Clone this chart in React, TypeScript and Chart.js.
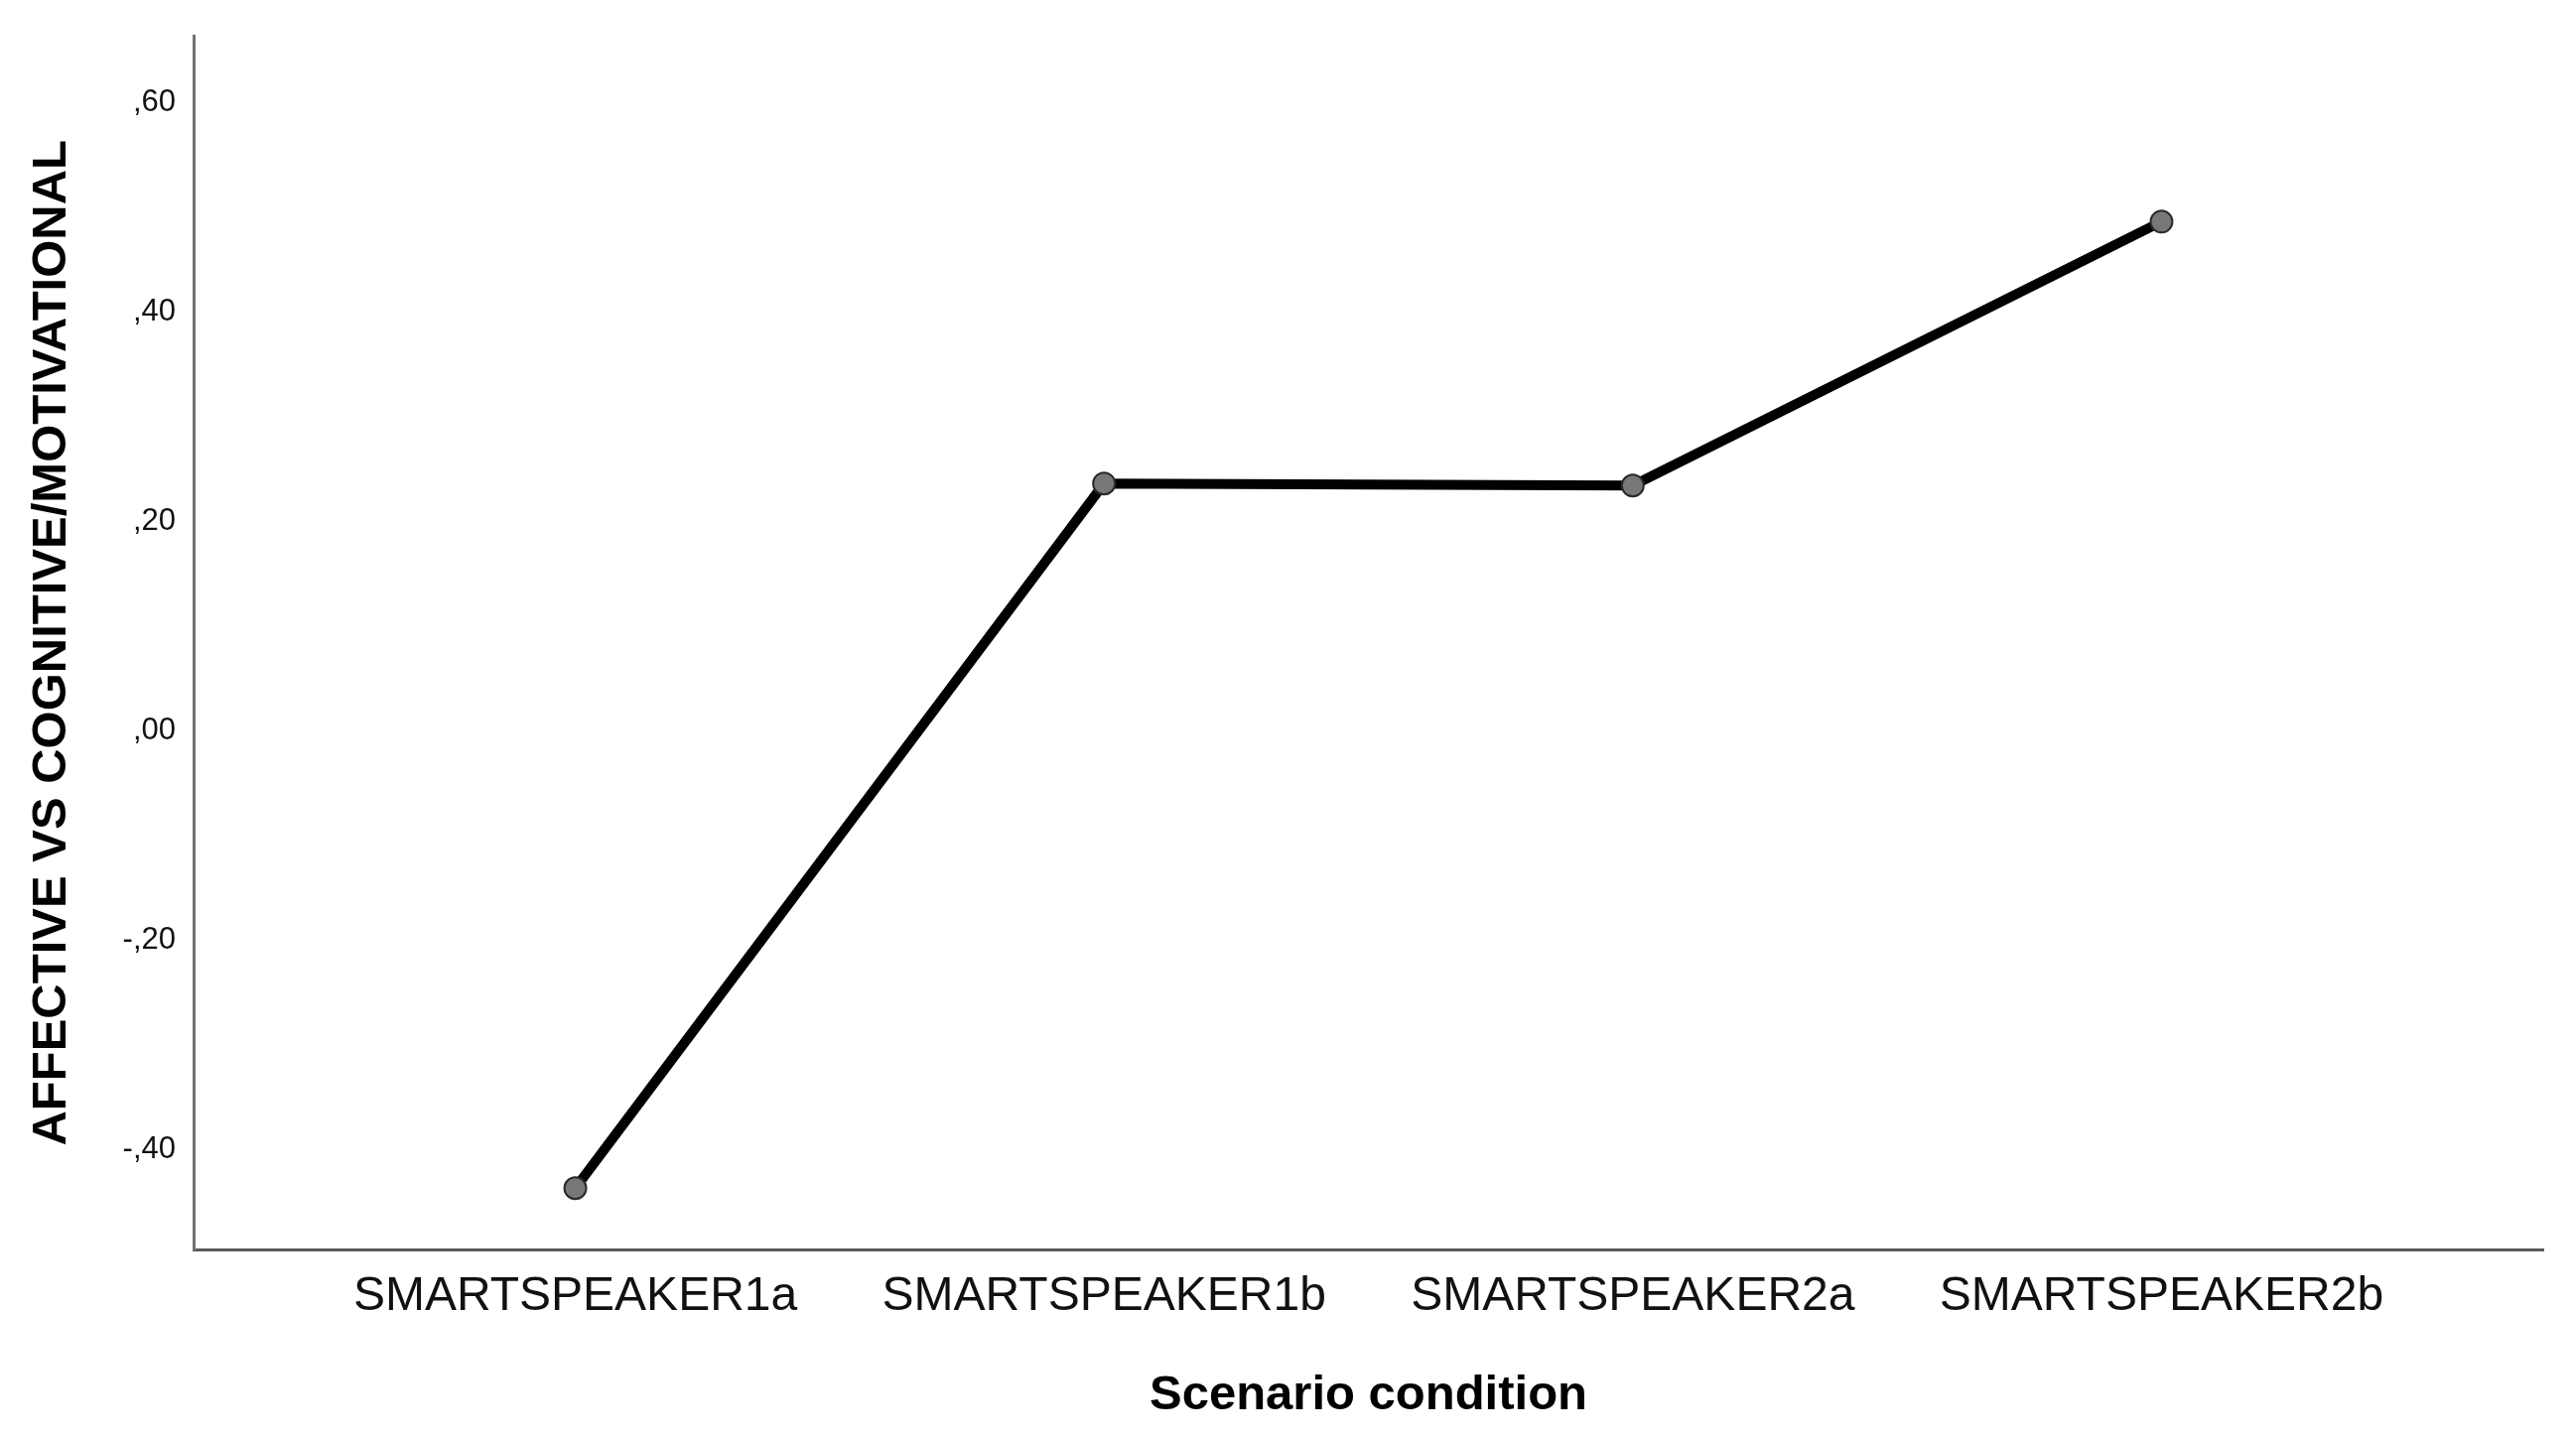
import React, { useEffect, useRef } from 'react';
import { Chart, registerables } from 'chart.js';

Chart.register(...registerables);

const categories = ['SMARTSPEAKER1a', 'SMARTSPEAKER1b', 'SMARTSPEAKER2a', 'SMARTSPEAKER2b'];
const meanValues = [-0.437, 0.236, 0.234, 0.486];
const yTickValues = [-0.4, -0.2, 0, 0.2, 0.4, 0.6];
const yMin = -0.4955;
const yMax = 0.663;
const xMin = -0.722;
const xMax = 3.722;
const xTitle = 'Scenario condition';
const yTitle = 'AFFECTIVE VS COGNITIVE/MOTIVATIONAL';

const FONT = '"Liberation Sans", Arial, "DejaVu Sans", sans-serif';

const fmt = (v: number) => {
  const s = Math.abs(v).toFixed(2).replace(/^0\./, ',');
  return (v < -1e-9 ? '-' : '') + s;
};

export default function App() {
  const ref = useRef<HTMLCanvasElement | null>(null);

  useEffect(() => {
    if (!ref.current) return;
    const chart = new Chart(ref.current, {
      type: 'line',
      data: {
        datasets: [
          {
            data: meanValues.map((v, i) => ({ x: i, y: v })),
            borderColor: '#000000',
            borderWidth: 10,
            pointRadius: 11,
            pointBackgroundColor: '#787878',
            pointBorderColor: '#2a2a2a',
            pointBorderWidth: 2,
            tension: 0,
            fill: false,
          },
        ],
      },
      options: {
        responsive: false,
        animation: false,
        layout: { padding: { top: 33, right: 33, left: 0, bottom: 0 } },
        plugins: {
          legend: { display: false },
          tooltip: { enabled: false },
        },
        scales: {
          x: {
            type: 'linear',
            min: xMin,
            max: xMax,
            afterBuildTicks: (s: any) => {
              s.ticks = categories.map((_, i) => ({ value: i }));
            },
            afterFit: (s: any) => {
              s.height = 191;
            },
            grid: { display: false, drawTicks: false },
            border: { display: true, color: '#5a5a5a', width: 3 },
            ticks: {
              autoSkip: false,
              maxRotation: 0,
              minRotation: 0,
              padding: 19,
              color: '#111111',
              font: { family: FONT, size: 48 },
              callback: (v: any) => categories[Math.round(Number(v))] ?? '',
            },
            title: {
              display: true,
              text: xTitle,
              color: '#000000',
              font: { family: FONT, size: 49, weight: 'bold' },
              padding: { top: 0, bottom: 14 },
            },
          },
          y: {
            type: 'linear',
            min: yMin,
            max: yMax,
            afterBuildTicks: (s: any) => {
              s.ticks = yTickValues.map((v) => ({ value: v }));
            },
            afterFit: (s: any) => {
              s.width = 195;
            },
            grid: { display: false, drawTicks: false },
            border: { display: true, color: '#707070', width: 3 },
            ticks: {
              padding: 18,
              color: '#111111',
              font: { family: FONT, size: 31 },
              callback: (v: any) => fmt(Number(v)),
            },
            title: {
              display: true,
              text: yTitle,
              color: '#000000',
              font: { family: FONT, size: 49, weight: 'bold' },
              padding: { top: 23, bottom: 0 },
            },
          },
        },
      },
    } as any);
    return () => chart.destroy();
  }, []);

  return (
    <div style={{ position: 'absolute', left: 0, top: 0, width: 2595, height: 1450, background: '#ffffff' }}>
      <canvas ref={ref} width={2595} height={1450} style={{ display: 'block' }} />
    </div>
  );
}
